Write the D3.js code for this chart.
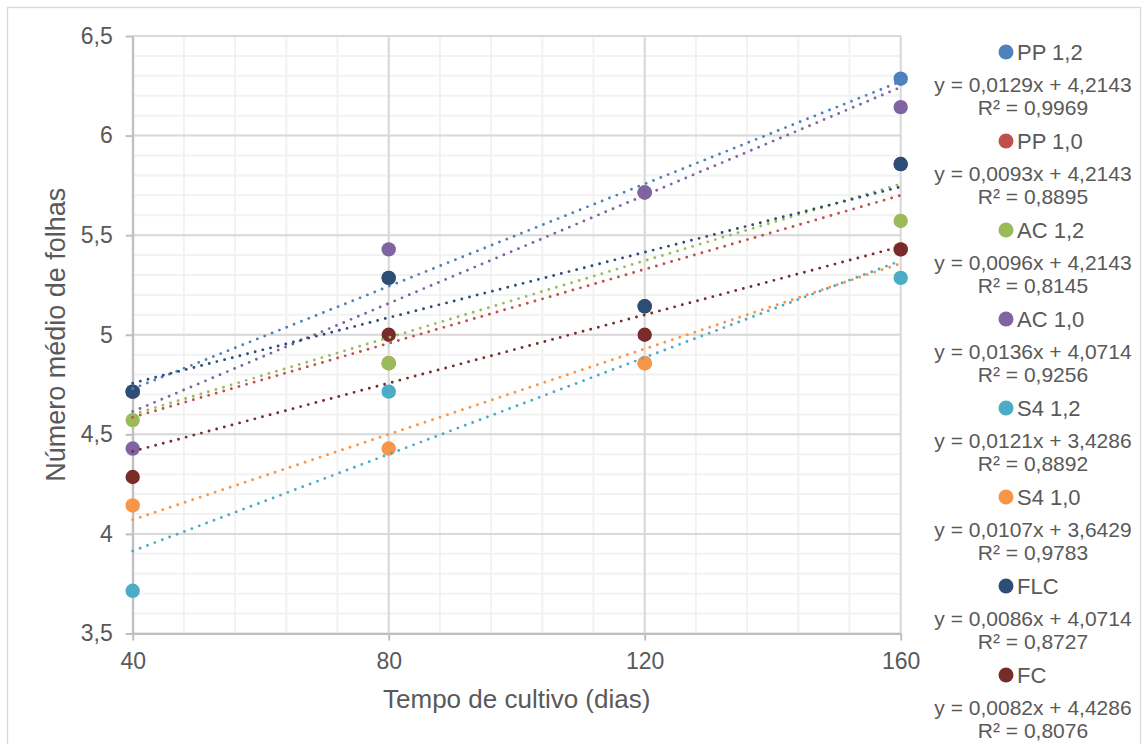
<!DOCTYPE html>
<html>
<head>
<meta charset="utf-8">
<script src="https://cdn.jsdelivr.net/npm/d3@7"></script>
<style>
  html, body { margin: 0; padding: 0; background: #fff; }
  svg { display: block; font-family: "Liberation Sans", Arial, sans-serif; }
</style>
</head>
<body>
<svg id="chart" width="1143" height="744"></svg>
<script>
// ---------- data ----------
const days = [40, 80, 120, 160];
const seriesNames = ["PP 1,2", "PP 1,0", "AC 1,2", "AC 1,0", "S4 1,2", "S4 1,0", "FLC", "FC"];
const pp12 = [4.7143, 5.2857, 5.7143, 6.2857];
const pp10 = [4.7143, 4.8571, 5.1429, 5.8571];
const ac12 = [4.5714, 4.8571, 5.7143, 5.5714];
const ac10 = [4.4286, 5.4286, 5.7143, 6.1429];
const s412 = [3.7143, 4.7143, 4.8571, 5.2857];
const s410 = [4.1429, 4.4286, 4.8571, 5.4286];
const flc  = [4.7143, 5.2857, 5.1429, 5.8571];
const fc   = [4.2857, 5.0000, 5.0000, 5.4286];
const seriesValues = [pp12, pp10, ac12, ac10, s412, s410, flc, fc];
const eqLabels = [
  "y = 0,0129x + 4,2143", "y = 0,0093x + 4,2143", "y = 0,0096x + 4,2143", "y = 0,0136x + 4,0714",
  "y = 0,0121x + 3,4286", "y = 0,0107x + 3,6429", "y = 0,0086x + 4,0714", "y = 0,0082x + 4,4286"
];
const r2Labels = ["R² = 0,9969", "R² = 0,8895", "R² = 0,8145", "R² = 0,9256",
                  "R² = 0,8892", "R² = 0,9783", "R² = 0,8727", "R² = 0,8076"];
const xTicks = [40, 80, 120, 160];
const yTicks = [3.5, 4, 4.5, 5, 5.5, 6, 6.5];
const xTitle = "Tempo de cultivo (dias)";
const yTitle = "Número médio de folhas";

// ---------- styles ----------
const colors = ["#4F81BD", "#C0504D", "#9BBB59", "#8064A2", "#4BACC6", "#F79646", "#2C4D75", "#772C2A"];
const textColor = "#595959";

const svg = d3.select("#chart");
const x = d3.scaleLinear().domain([40, 160]).range([132.7, 900.7]);
const y = d3.scaleLinear().domain([3.5, 6.5]).range([633.5, 36]);
const fmt = d => String(d).replace(".", ",");

// outer border
svg.append("rect").attr("x", 7.5).attr("y", 7.5).attr("width", 1133).attr("height", 760)
  .attr("fill", "#fff").attr("stroke", "#D9D9D9").attr("stroke-width", 1.3);

// minor gridlines
const g = svg.append("g");
g.selectAll("line.mx").data(d3.range(40, 160.01, 8)).join("line")
  .attr("x1", d => x(d)).attr("x2", d => x(d)).attr("y1", y(3.5)).attr("y2", y(6.5))
  .attr("stroke", "#F2F2F2").attr("stroke-width", 2);
g.selectAll("line.my").data(d3.range(35, 65.01, 1).map(v => v / 10)).join("line")
  .attr("x1", x(40)).attr("x2", x(160)).attr("y1", d => y(d)).attr("y2", d => y(d))
  .attr("stroke", "#F2F2F2").attr("stroke-width", 2);
// major gridlines
g.selectAll("line.Mx").data(xTicks).join("line")
  .attr("x1", d => x(d)).attr("x2", d => x(d)).attr("y1", y(3.5)).attr("y2", y(6.5))
  .attr("stroke", "#D9D9D9").attr("stroke-width", 2);
g.selectAll("line.My").data(yTicks).join("line")
  .attr("x1", x(40)).attr("x2", x(160)).attr("y1", d => y(d)).attr("y2", d => y(d))
  .attr("stroke", "#D9D9D9").attr("stroke-width", 2);

// axes
const xAxis = svg.append("g").attr("transform", `translate(0,${y(3.5)})`)
  .call(d3.axisBottom(x).tickValues(xTicks).tickFormat(fmt).tickSize(7).tickSizeOuter(0).tickPadding(12));
const yAxis = svg.append("g").attr("transform", `translate(${x(40)},0)`)
  .call(d3.axisLeft(y).tickValues(yTicks).tickFormat(fmt).tickSize(7).tickSizeOuter(0).tickPadding(13));
[xAxis, yAxis].forEach(a => {
  a.select(".domain").attr("stroke", "#BFBFBF").attr("stroke-width", 2);
  a.selectAll(".tick line").attr("stroke", "#BFBFBF").attr("stroke-width", 2);
  a.selectAll(".tick text").attr("fill", textColor).style("font-size", "23px")
    .style("font-family", '"Liberation Sans", Arial, sans-serif');
});

// axis titles
svg.append("text").attr("x", (x(40) + x(160)) / 2).attr("y", 708)
  .attr("text-anchor", "middle").attr("fill", textColor).style("font-size", "26px").text(xTitle);
svg.append("text").attr("transform", `translate(65,${(y(3.5) + y(6.5)) / 2}) rotate(-90)`)
  .attr("text-anchor", "middle").attr("fill", textColor).style("font-size", "27px").text(yTitle);

// markers
const series = seriesNames.map((n, i) => ({ name: n, values: seriesValues[i], color: colors[i] }));
series.forEach(s => {
  svg.append("g").selectAll("circle").data(s.values.map((v, j) => [days[j], v])).join("circle")
    .attr("cx", d => x(d[0])).attr("cy", d => y(d[1])).attr("r", 7.2).attr("fill", s.color);
});

// linear trendlines (least squares on the series values)
const line = d3.line().x(d => x(d[0])).y(d => y(d[1]));
series.forEach(s => {
  const mx = d3.mean(days), my = d3.mean(s.values);
  const b = d3.sum(days, (d, j) => (d - mx) * (s.values[j] - my)) / d3.sum(days, d => (d - mx) ** 2);
  const a = my - b * mx;
  svg.append("path").datum([[40, a + b * 40], [160, a + b * 160]])
    .attr("d", line).attr("fill", "none").attr("stroke", s.color)
    .attr("stroke-width", 2.9).attr("stroke-linecap", "round").attr("stroke-dasharray", "0 7.9");
});

// legend + equation labels
const lg = svg.append("g");
series.forEach((s, i) => {
  const ly = 52 + i * 89;
  lg.append("circle").attr("cx", 1006).attr("cy", ly).attr("r", 7.5).attr("fill", s.color);
  lg.append("text").attr("x", 1017).attr("y", ly).attr("dy", "0.36em")
    .attr("fill", textColor).style("font-size", "22px").text(s.name);
  lg.append("text").attr("x", 1033).attr("y", ly + 32).attr("dy", "0.36em").attr("text-anchor", "middle")
    .attr("fill", textColor).style("font-size", "21px").text(eqLabels[i]);
  lg.append("text").attr("x", 1033).attr("y", ly + 55).attr("dy", "0.36em").attr("text-anchor", "middle")
    .attr("fill", textColor).style("font-size", "21px").text(r2Labels[i]);
});
</script>
</body>
</html>
